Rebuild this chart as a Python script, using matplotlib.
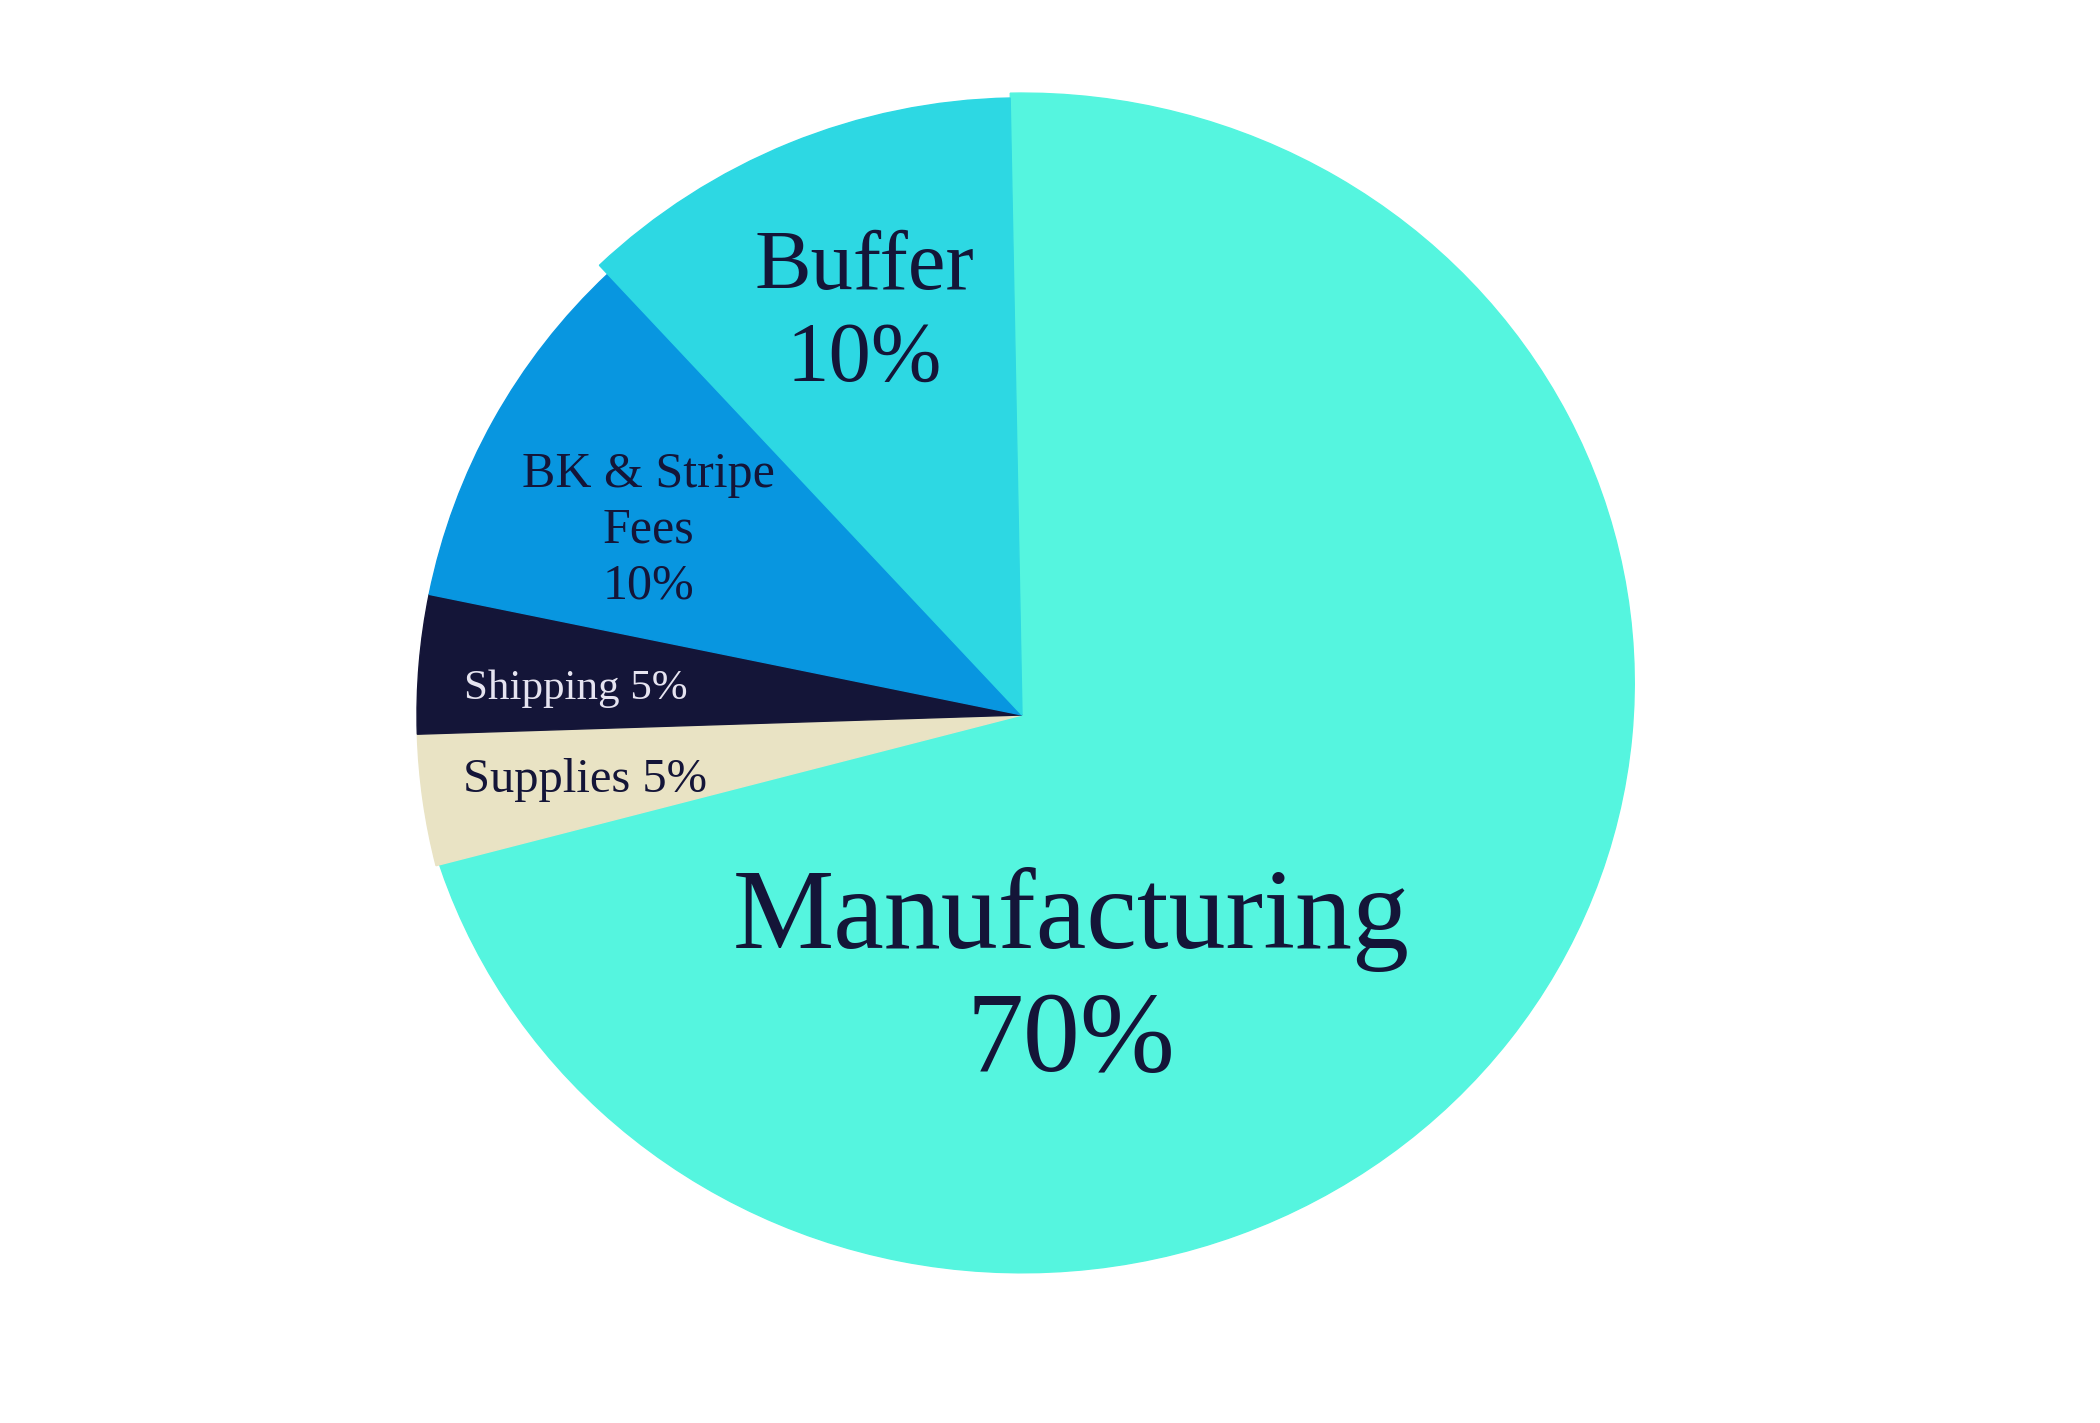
import matplotlib
matplotlib.use("Agg")
import matplotlib.pyplot as plt
from matplotlib.transforms import Affine2D

# slice order goes clockwise from the top
categories = ["Manufacturing", "Supplies", "Shipping", "BK & Stripe Fees", "Buffer"]
# shares as drawn in the picture (the printed labels round them)
shares = [71.3, 3.5, 3.7, 9.8, 11.7]
label_texts = ["Manufacturing\n70%", "Supplies 5%", "Shipping 5%", "BK & Stripe\nFees\n10%", "Buffer\n10%"]
colors = ["#55F5DF", "#E9E3C4", "#141538", "#0896E0", "#2DD8E3"]
text_colors = ["#141538", "#141538", "#E6E4F0", "#141538", "#141538"]

plt.rcParams['font.family'] = ['Liberation Serif', 'DejaVu Serif']

fig = plt.figure(figsize=(21, 14.23), dpi=100)
ax = fig.add_axes([0, 0, 1, 1])

wedges, _ = ax.pie(shares, colors=colors, startangle=91.1, counterclock=False,
                   radius=1.0, wedgeprops=dict(linewidth=1))
for w, c in zip(wedges, colors):
    w.set_edgecolor(c)

# the big slice is a bit squashed and sits a little higher, behind the others
wedges[0].set_transform(Affine2D().scale(1.012, 0.975).translate(0, 0.053) + ax.transData)
wedges[0].set_zorder(0.5)
# buffer slice reaches a touch further out
wedges[4].set_radius(1.02)

# label spots (data units, pie radius = 1)
spots = [(0.081, -0.44), (-0.722, -0.107), (-0.737, 0.043), (-0.618, 0.305), (-0.261, 0.662)]
sizes = [82, 35, 31, 36, 61]
for txt, (x, y), s, tc in zip(label_texts, spots, sizes, text_colors):
    ax.text(x, y, txt, ha='center', va='center', fontsize=s, color=tc,
            linespacing=1.25, zorder=5)

ax.set_xlim(-1022/605, (2100-1022)/605)
ax.set_ylim(-(1423-715)/605, 715/605)
ax.set_aspect('equal')
ax.axis('off')

fig.savefig("out.png", dpi=100, facecolor="white")
